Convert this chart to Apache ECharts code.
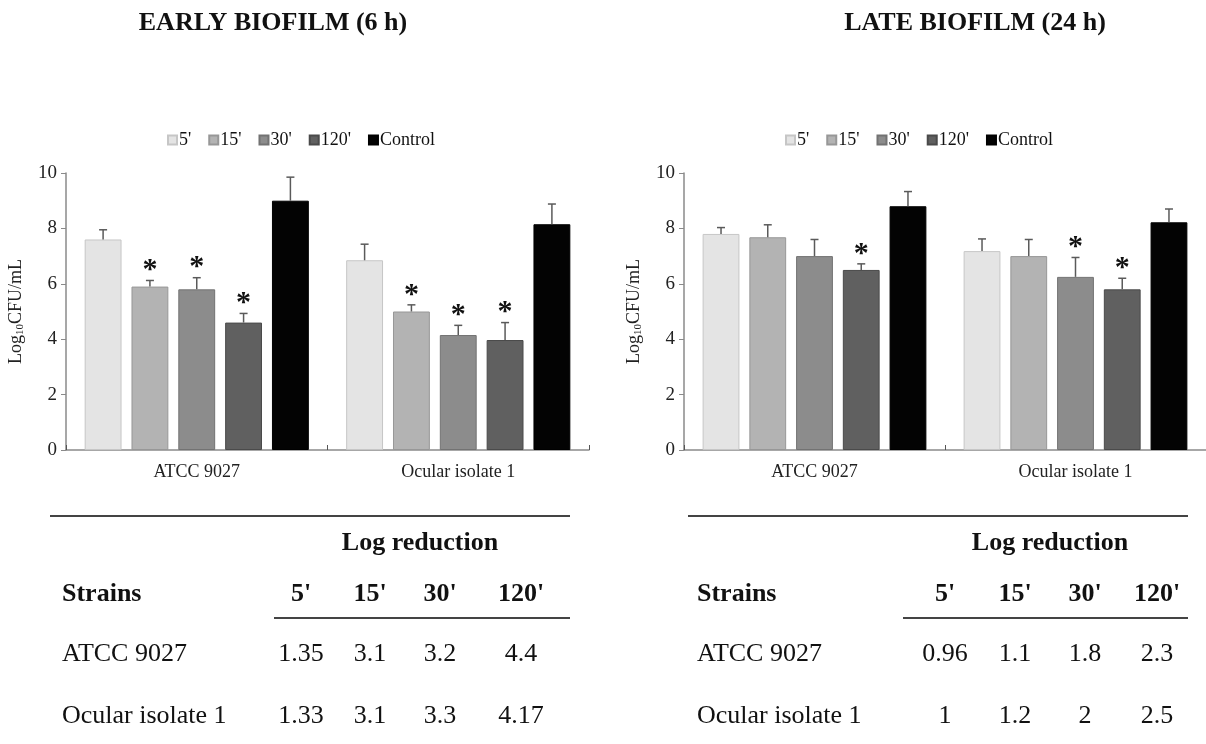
<!DOCTYPE html>
<html>
<head>
<meta charset="utf-8">
<script src="https://cdn.jsdelivr.net/npm/echarts@6/dist/echarts.min.js"></script>
<style>
html,body{margin:0;padding:0;background:#fff;}
#chart{width:1206px;height:744px;}
</style>
</head>
<body>
<div id="chart"></div>
<script>
// ---------- data ----------
const categories = ['ATCC 9027', 'Ocular isolate 1'];
const times = ["5'", "15'", "30'", "120'", 'Control'];
const yTicks = [0, 2, 4, 6, 8, 10];

// Early biofilm (6 h): Log10 CFU/mL per time, [ATCC 9027, Ocular isolate 1]
const early5 = [7.6, 6.85];
const early15 = [5.9, 5.0];
const early30 = [5.8, 4.15];
const early120 = [4.6, 3.97];
const earlyCtrl = [9.0, 8.15];
const earlyErr5 = [0.35, 0.58];
const earlyErr15 = [0.22, 0.24];
const earlyErr30 = [0.42, 0.35];
const earlyErr120 = [0.33, 0.63];
const earlyErrCtrl = [0.85, 0.73];
const earlyStar5 = [0, 0];
const earlyStar15 = [1, 1];
const earlyStar30 = [1, 1];
const earlyStar120 = [1, 1];
const earlyStarCtrl = [0, 0];

// Late biofilm (24 h)
const late5 = [7.8, 7.18];
const late15 = [7.68, 7.0];
const late30 = [7.0, 6.25];
const late120 = [6.5, 5.8];
const lateCtrl = [8.8, 8.22];
const lateErr5 = [0.23, 0.44];
const lateErr15 = [0.45, 0.6];
const lateErr30 = [0.6, 0.7];
const lateErr120 = [0.22, 0.4];
const lateErrCtrl = [0.53, 0.48];
const lateStar5 = [0, 0];
const lateStar15 = [0, 0];
const lateStar30 = [0, 1];
const lateStar120 = [1, 1];
const lateStarCtrl = [0, 0];

// Tables: log reduction
const tableTimes = ["5'", "15'", "30'", "120'"];
const tableStrains = ['ATCC 9027', 'Ocular isolate 1'];
const earlyRedATCC = ['1.35', '3.1', '3.2', '4.4'];
const earlyRedOcular = ['1.33', '3.1', '3.3', '4.17'];
const lateRedATCC = ['0.96', '1.1', '1.8', '2.3'];
const lateRedOcular = ['1', '1.2', '2', '2.5'];

// ---------- styling ----------
const FONT = "'Liberation Serif', 'Times New Roman', serif";
const colors = ['#e4e4e4', '#b3b3b3', '#8c8c8c', '#606060', '#030303'];
const borders = ['#c6c6c6', '#979797', '#727272', '#4a4a4a', '#000000'];
const BAR_FRAC = 0.141;
const BAR_GAP = 0.27;

const earlyVals = [early5, early15, early30, early120, earlyCtrl];
const earlyErrs = [earlyErr5, earlyErr15, earlyErr30, earlyErr120, earlyErrCtrl];
const earlyStars = [earlyStar5, earlyStar15, earlyStar30, earlyStar120, earlyStarCtrl];
const lateVals = [late5, late15, late30, late120, lateCtrl];
const lateErrs = [lateErr5, lateErr15, lateErr30, lateErr120, lateErrCtrl];
const lateStars = [lateStar5, lateStar15, lateStar30, lateStar120, lateStarCtrl];

const chart = echarts.init(document.getElementById('chart'));

function barSeries(vals, axisIdx) {
  return times.map((t, i) => ({
    name: t,
    type: 'bar',
    xAxisIndex: axisIdx,
    yAxisIndex: axisIdx,
    barWidth: (BAR_FRAC * 100) + '%',
    barGap: (BAR_GAP * 100) + '%',
    itemStyle: { color: colors[i], borderColor: borders[i], borderWidth: 1 },
    data: vals[i],
    z: 2
  }));
}

function errSeries(vals, errs, stars, axisIdx) {
  const data = [];
  times.forEach((t, i) => {
    categories.forEach((c, j) => {
      data.push([j, vals[i][j], errs[i][j], stars[i][j], i]);
    });
  });
  return {
    type: 'custom',
    xAxisIndex: axisIdx,
    yAxisIndex: axisIdx,
    silent: true,
    z: 5,
    data: data,
    renderItem: function (params, api) {
      const cat = api.value(0), v = api.value(1), e = api.value(2), star = api.value(3), si = api.value(4);
      const base = api.coord([cat, v]);
      const top = api.coord([cat, v + e]);
      const catW = api.size([1, 0])[0];
      const bw = catW * BAR_FRAC;
      const step = bw * (1 + BAR_GAP);
      const x = base[0] + (si - 2) * step;
      const children = [
        { type: 'line', shape: { x1: x, y1: base[1], x2: x, y2: top[1] }, style: { stroke: '#5a5a5a', lineWidth: 1.5 } },
        { type: 'line', shape: { x1: x - 4, y1: top[1], x2: x + 4, y2: top[1] }, style: { stroke: '#5a5a5a', lineWidth: 1.5 } }
      ];
      if (star) {
        children.push({
          type: 'text',
          style: { text: '*', x: x, y: top[1] + 5, align: 'center', verticalAlign: 'bottom', fontFamily: FONT, fontWeight: 'bold', fontSize: 30, fill: '#111' }
        });
      }
      return { type: 'group', children: children };
    }
  };
}

function xAxis(gridIdx) {
  return {
    type: 'category',
    gridIndex: gridIdx,
    data: categories,
    axisLine: { lineStyle: { color: '#8a8a8a', width: 1.5 } },
    axisTick: { show: true, inside: true, length: 5, lineStyle: { color: '#555' } },
    axisLabel: { fontFamily: FONT, fontSize: 18, color: '#222', margin: 13 }
  };
}
function yAxis(gridIdx) {
  return {
    type: 'value',
    gridIndex: gridIdx,
    min: yTicks[0], max: yTicks[yTicks.length - 1], interval: yTicks[1] - yTicks[0],
    name: '{a|Log}{b|10}{a|CFU/mL}',
    nameLocation: 'middle',
    nameGap: 40,
    nameRotate: 90,
    nameTextStyle: {
      rich: {
        a: { fontFamily: FONT, fontSize: 18, color: '#222' },
        b: { fontFamily: FONT, fontSize: 11, color: '#222', padding: [8, 0, 0, 0] }
      }
    },
    axisLine: { show: true, lineStyle: { color: '#8a8a8a', width: 1.5 } },
    axisTick: { show: true, length: 5, lineStyle: { color: '#8a8a8a' } },
    splitLine: { show: false },
    axisLabel: { fontFamily: FONT, fontSize: 19, color: '#222', margin: 9 }
  };
}

function legend(left) {
  return {
    left: left, top: 126,
    data: times,
    icon: 'rect',
    itemWidth: 9, itemHeight: 9, itemGap: 17,
    selectedMode: false,
    textStyle: { fontFamily: FONT, fontSize: 18, color: '#111', padding: [0, 0, 0, -3] }
  };
}

function tableGraphics(cx, lineX1, lineX2, rule2X1, colX, redA, redB, titleX) {
  const g = [];
  const bold = { fontFamily: FONT, fontWeight: 'bold', fontSize: 26, fill: '#111' };
  const reg = { fontFamily: FONT, fontSize: 26, fill: '#111' };
  g.push({ type: 'line', shape: { x1: lineX1, y1: 516, x2: lineX2, y2: 516 }, style: { stroke: '#444', lineWidth: 2 } });
  g.push({ type: 'text', style: Object.assign({ text: 'Log reduction', x: titleX, y: 543, align: 'center', verticalAlign: 'middle' }, bold) });
  g.push({ type: 'text', style: Object.assign({ text: 'Strains', x: cx, y: 594, align: 'left', verticalAlign: 'middle' }, bold) });
  tableTimes.forEach((t, i) => {
    g.push({ type: 'text', style: Object.assign({ text: t, x: colX[i], y: 594, align: 'center', verticalAlign: 'middle' }, bold) });
  });
  g.push({ type: 'line', shape: { x1: rule2X1, y1: 618, x2: lineX2, y2: 618 }, style: { stroke: '#444', lineWidth: 2 } });
  g.push({ type: 'text', style: Object.assign({ text: tableStrains[0], x: cx, y: 654, align: 'left', verticalAlign: 'middle' }, reg) });
  g.push({ type: 'text', style: Object.assign({ text: tableStrains[1], x: cx, y: 716, align: 'left', verticalAlign: 'middle' }, reg) });
  redA.forEach((v, i) => {
    g.push({ type: 'text', style: Object.assign({ text: v, x: colX[i], y: 654, align: 'center', verticalAlign: 'middle' }, reg) });
  });
  redB.forEach((v, i) => {
    g.push({ type: 'text', style: Object.assign({ text: v, x: colX[i], y: 716, align: 'center', verticalAlign: 'middle' }, reg) });
  });
  return g;
}

const graphics = [
  { type: 'text', style: { text: 'EARLY BIOFILM (6 h)', x: 273, y: 23, align: 'center', verticalAlign: 'middle', fontFamily: FONT, fontWeight: 'bold', fontSize: 26, fill: '#111' } },
  { type: 'text', style: { text: 'LATE BIOFILM (24 h)', x: 975, y: 23, align: 'center', verticalAlign: 'middle', fontFamily: FONT, fontWeight: 'bold', fontSize: 26, fill: '#111' } }
].concat(
  tableGraphics(62, 50, 570, 274, [301, 370, 440, 521], earlyRedATCC, earlyRedOcular, 420),
  tableGraphics(697, 688, 1188, 903, [945, 1015, 1085, 1157], lateRedATCC, lateRedOcular, 1050)
);

const option = {
  backgroundColor: '#fff',
  animation: false,
  legend: [legend(162), legend(780)],
  grid: [
    { left: 66, top: 173, width: 523, height: 277 },
    { left: 684, top: 173, width: 523, height: 277 }
  ],
  xAxis: [xAxis(0), xAxis(1)],
  yAxis: [yAxis(0), yAxis(1)],
  series: [].concat(
    barSeries(earlyVals, 0),
    [errSeries(earlyVals, earlyErrs, earlyStars, 0)],
    barSeries(lateVals, 1),
    [errSeries(lateVals, lateErrs, lateStars, 1)]
  ),
  graphic: graphics
};
chart.setOption(option);
</script>
</body>
</html>
